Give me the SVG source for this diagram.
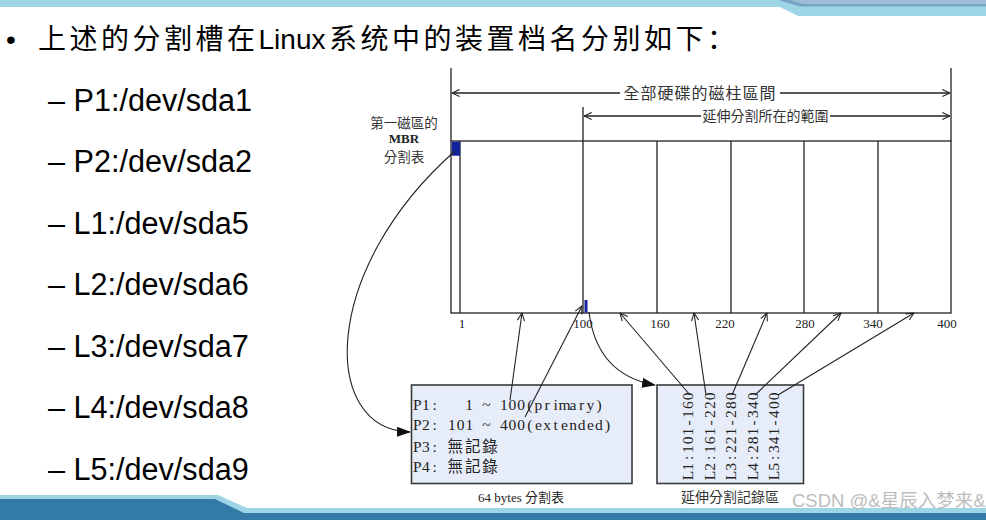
<svg xmlns="http://www.w3.org/2000/svg" width="986" height="520" viewBox="0 0 986 520">
<defs>
<style>
.slide{font-family:"Liberation Sans","Noto Sans CJK SC",sans-serif;fill:#000}
.cjk{font-family:"Noto Sans CJK TC","Liberation Serif",serif;fill:#333}
.ser{font-family:"Liberation Serif","Noto Sans CJK TC",serif;fill:#222}
.pre{white-space:pre}
.ln{stroke:#222;stroke-width:1.3;fill:none}
.con{stroke:#222;stroke-width:1.1;fill:none}
.box{fill:#e7edf8;stroke:#3a3a3a;stroke-width:1.6}
.blk{fill:#13239b}
</style>
<marker id="oa" viewBox="0 0 10 10" refX="9.5" refY="5" markerWidth="9" markerHeight="9" markerUnits="userSpaceOnUse" orient="auto-start-reverse"><path d="M1,1 L9.5,5 L1,9" fill="none" stroke="#222" stroke-width="1.2"/></marker>
<marker id="fa" viewBox="0 0 14 10" refX="13" refY="5" markerWidth="14" markerHeight="10" markerUnits="userSpaceOnUse" orient="auto"><path d="M0,0 L14,5 L0,10 z" fill="#111"/></marker>
</defs>
<rect width="986" height="520" fill="#fff"/>
<g id="bands">
<polygon points="0,0 986,0 986,16 798,16 780,7 0,7" fill="#9dd5e6"/>
<polygon points="778,0 986,0 986,6.5 800,6.5" fill="#78a5c6"/>
<polygon points="790,0 986,0 986,4 803,4" fill="#9fbdd6"/>
<polygon points="0,495 218,495 247,508 986,508 986,520 0,520" fill="#9dd5e6"/>
<polygon points="0,499 215,499 244,513 986,513 986,520 0,520" fill="#337ba6"/>
</g>
<g id="slide-text" class="slide">
<text x="6" y="49" font-size="28">•</text>
<text x="38" y="49" font-size="28" letter-spacing="3.5">上述的分割槽在<tspan letter-spacing="0">Linu</tspan><tspan>x</tspan>系统中的装置档名分别如下：</text>
<text x="48" y="110.7" font-size="30.6">– P1:/dev/sda1</text>
<text x="48" y="172.2" font-size="30.6">– P2:/dev/sda2</text>
<text x="48" y="233.7" font-size="30.6">– L1:/dev/sda5</text>
<text x="48" y="295.2" font-size="30.6">– L2:/dev/sda6</text>
<text x="48" y="356.7" font-size="30.6">– L3:/dev/sda7</text>
<text x="48" y="418.2" font-size="30.6">– L4:/dev/sda8</text>
<text x="48" y="479.7" font-size="30.6">– L5:/dev/sda9</text>
</g>
<g id="disk">
<rect x="451" y="141" width="500" height="172" fill="#fff" stroke="#222" stroke-width="1.3"/>
<path class="ln" d="M460,141 V313 M657,141 V313 M731,141 V313 M804,141 V313 M878,141 V313 M451,68 V141 M951,68 V141 M583,107 V313"/>
<rect class="blk" x="451.7" y="141.7" width="8.3" height="14"/>
<rect class="blk" x="584.5" y="300" width="3" height="12.5"/>
<g class="ser" font-size="13" text-anchor="middle">
<text x="462" y="328">1</text>
<text x="583" y="328">100</text>
<text x="660" y="328">160</text>
<text x="725" y="328">220</text>
<text x="805" y="328">280</text>
<text x="873" y="328">340</text>
<text x="947" y="328">400</text>
</g>
</g>
<g id="mbr-label" text-anchor="middle">
<text class="cjk" x="404" y="128" font-size="13.5">第一磁區的</text>
<text class="ser" x="404" y="142.5" font-size="13" font-weight="bold">MBR</text>
<text class="cjk" x="404" y="161.5" font-size="13.5">分割表</text>
</g>
<g id="span-labels" class="cjk">
<text x="700" y="99" font-size="16" letter-spacing="1" text-anchor="middle">全部硬碟的磁柱區間</text>
<text x="765.5" y="121" font-size="14" text-anchor="middle">延伸分割所在的範圍</text>
</g>
<g id="partition-table">
<rect class="box" x="411.5" y="385" width="220.5" height="98.5"/>
<g class="ser" font-size="15.5">
<text class="pre" xml:space="preserve" x="413 422.1 432.5 439 447.6 456.3 465.3 473.6 482.3 490.9 500 508.6 517.3 527.2 534.6 544.5 553.6 558.4 569.6 579.1 586.5 596.4" y="410">P1:   1 ~ 100(primary)</text>
<text class="pre" xml:space="preserve" x="413 422.1 432.5 439 448.1 456.7 465.4 473.6 482.3 490.9 500 508.6 517.3 527.2 535 543.2 553.6 561 569.2 577.8 586.9 595.1 605" y="430">P2: 101 ~ 400(extended)</text>
<text class="pre" xml:space="preserve" x="413 422.1 432.5 439 447.6 464.9 482.2" y="451.5">P3: 無記錄</text>
<text class="pre" xml:space="preserve" x="413 422.1 432.5 439 447.6 464.9 482.2" y="472">P4: 無記錄</text>
</g>
<text class="ser" x="521" y="502" font-size="13" text-anchor="middle">64 bytes 分割表</text>
</g>
<g id="extended-table">
<rect class="box" x="657" y="385" width="146.5" height="98.5"/>
<g class="ser" font-size="15.5">
<text transform="translate(693,480) rotate(-90)" x="-0.3 9.3 19.9 26.9 35.7 44.5 54.6 62.1 70.9 79.7" y="0">L1:101-160</text>
<text transform="translate(714.5,480) rotate(-90)" x="-0.3 9.3 19.9 26.9 35.7 44.5 54.6 62.1 70.9 79.7" y="0">L2:161-220</text>
<text transform="translate(736,480) rotate(-90)" x="-0.3 9.3 19.9 26.9 35.7 44.5 54.6 62.1 70.9 79.7" y="0">L3:221-280</text>
<text transform="translate(757.5,480) rotate(-90)" x="-0.3 9.3 19.9 26.9 35.7 44.5 54.6 62.1 70.9 79.7" y="0">L4:281-340</text>
<text transform="translate(779,480) rotate(-90)" x="-0.3 9.3 19.9 26.9 35.7 44.5 54.6 62.1 70.9 79.7" y="0">L5:341-400</text>
</g>
<text class="cjk" x="730" y="502" font-size="14" text-anchor="middle">延伸分割記錄區</text>
</g>
<g id="connectors">
<path class="ln" d="M452,93 H620 M780,93 H950" marker-start="url(#oa)" marker-end="url(#oa)"/>
<path class="ln" d="M584,116 H701 M830,116 H950" marker-start="url(#oa)" marker-end="url(#oa)"/>
<path class="con" d="M455,151 C320,270 320,430 410,432" marker-end="url(#fa)"/>
<path class="con" d="M589,312 C594,352 615,378 655,385" marker-end="url(#fa)"/>
<path class="con" d="M510,400 L522,313" marker-end="url(#oa)"/>
<path class="con" d="M525,417 L582,306" marker-end="url(#oa)"/>
<path class="con" d="M690,395 L620,313" marker-end="url(#oa)"/>
<path class="con" d="M706,395 L694,313" marker-end="url(#oa)"/>
<path class="con" d="M732,395 L767,313" marker-end="url(#oa)"/>
<path class="con" d="M755,395 L841,313" marker-end="url(#oa)"/>
<path class="con" d="M778,395 L914,313" marker-end="url(#oa)"/>
</g>
<text x="792" y="507" font-family="Liberation Sans,Noto Sans CJK SC,sans-serif" font-size="18.5" fill="#bdbdbd">CSDN @&amp;星辰入梦来&amp;</text>
</svg>
